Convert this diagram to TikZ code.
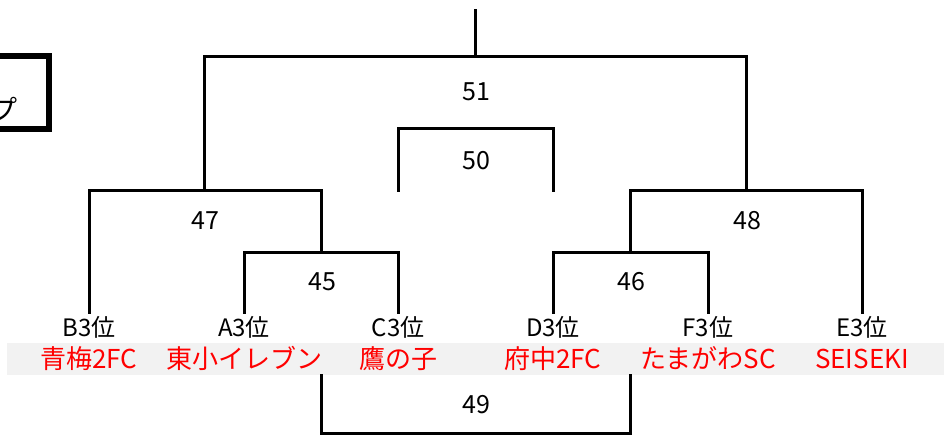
\documentclass[tikz,border=0pt]{standalone}
\usepackage{fontspec}
\setmainfont{Noto Sans CJK JP}
\definecolor{bandgray}{HTML}{F2F2F2}
\begin{document}
\begin{tikzpicture}[x=1pt,y=-1pt,line width=3pt,line cap=rect,
    seed/.style={anchor=base,inner sep=0pt,outer ysep=6pt,text height=18pt,
      font=\fontsize{24}{24}\selectfont},
    team/.style={anchor=base,inner sep=0pt,text=red,font=\fontsize{26}{26}\selectfont},
    game/.style={inner sep=0pt,font=\fontsize{25}{25}\selectfont}]
    \useasboundingbox (0,0) rectangle (944,436);
    % title box, cut at the left edge
    \draw[line width=6pt] (-40,56) rectangle (49,129);
    \node[anchor=east,inner sep=0pt,font=\fontsize{28}{28}\selectfont] (ttl) at (19,109) {プ};
    % band behind the team names
    \fill[bandgray] (7,343) rectangle (944,375);
    \foreach \n/\x/\s/\t in {b/89/B/青梅2FC,a/244/A/東小イレブン,c/398/C/鷹の子,
        d/553/D/府中2FC,f/708/F/たまがわSC,e/862/E/SEISEKI}{
        \node[seed] (\n) at (\x,336) {\s3位};
        \node[team] (\n t) at (\x,368) {\t};
    }
    % match points
    \coordinate (m45) at (321,252);
    \coordinate (m46) at (630.5,252);
    \coordinate (m47) at (204.5,190);
    \coordinate (m48) at (746,190);
    \coordinate (m51) at (475.5,57);
    \coordinate (top) at (475.5,11);
    \coordinate (m50) at (475.5,128);
    \coordinate (l50) at (398,190);
    \coordinate (r50) at (553,190);
    \coordinate (m49) at (475.5,433);
    \coordinate (l49) at (321,375);
    \coordinate (r49) at (630.5,375);
    \draw (a.north) |- (m45) -| (c.north);
    \draw (d.north) |- (m46) -| (f.north);
    \draw (b.north) |- (m47) -| (m45);
    \draw (m46) |- (m48) -| (e.north);
    \draw (m47) |- (m51) -| (m48);
    \draw (m51) -- (top);
    \draw (l50) |- (m50) -| (r50);
    \draw (l49) |- (m49) -| (r49);
    % match numbers
    \node[game] (g51) at (476,92) {51};
    \node[game] (g50) at (476,161) {50};
    \node[game] (g47) at (205,221) {47};
    \node[game] (g48) at (747,221) {48};
    \node[game] (g45) at (322,282) {45};
    \node[game] (g46) at (631,282) {46};
    \node[game] (g49) at (476,405) {49};
\end{tikzpicture}
\end{document}
